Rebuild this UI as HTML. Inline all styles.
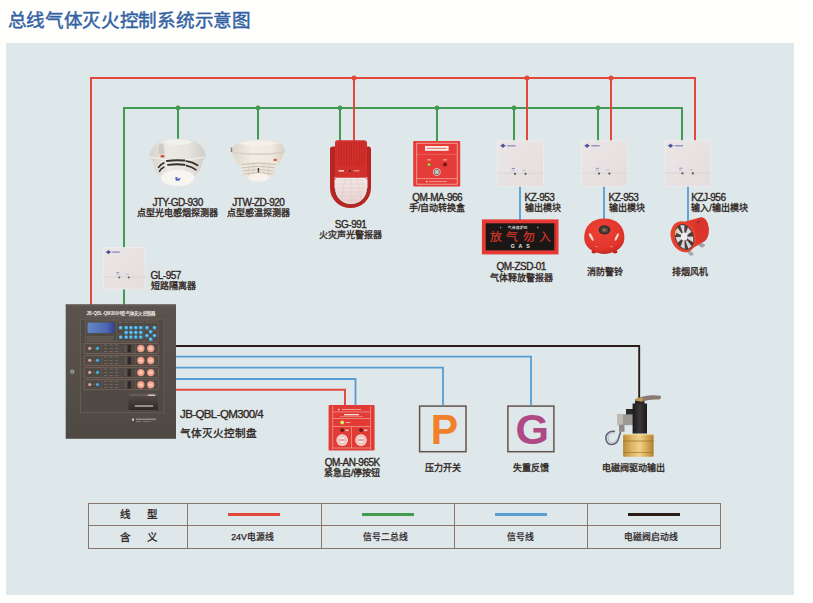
<!DOCTYPE html>
<html lang="zh-CN">
<head>
<meta charset="utf-8">
<style>
html,body{margin:0;padding:0;}
body{width:813px;height:603px;background:#fefefd;position:relative;overflow:hidden;font-family:"Liberation Sans",sans-serif;}
.title{position:absolute;left:7.5px;top:8.5px;font-size:18.6px;letter-spacing:-0.3px;-webkit-text-stroke:0.45px #3362a2;line-height:24px;color:#3362a2;white-space:nowrap;}
.panel{position:absolute;left:6px;top:43px;width:788px;height:552px;background:#dee7ea;}
svg.lines{position:absolute;left:0;top:0;}
.lbl{position:absolute;color:#31271f;font-size:9px;line-height:10.3px;-webkit-text-stroke:0.35px #31271f;white-space:nowrap;text-align:center;transform:translateX(-50%);}
.lbl b{display:block;font-weight:normal;font-size:10px;letter-spacing:-0.5px;-webkit-text-stroke:0.35px #31271f;}
.lbl.l{transform:none;text-align:left;}
.dev{position:absolute;}
.tt{position:absolute;font-size:10.5px;line-height:12px;color:#2a221e;-webkit-text-stroke:0.3px #2a221e;}
.tv{position:absolute;font-size:8.8px;line-height:10px;color:#2a221e;-webkit-text-stroke:0.25px #2a221e;transform:translateX(-50%);white-space:nowrap;}
</style>
</head>
<body>
<div class="title">总线气体灭火控制系统示意图</div>
<div class="panel"></div>

<svg class="lines" width="813" height="603" viewBox="0 0 813 603">
  <!-- green bus -->
  <g stroke="#439b52" stroke-width="2" fill="none">
    <polyline points="124,305 124,108 682,108 682,141"/>
    <line x1="178" y1="108" x2="178" y2="140"/>
    <line x1="258" y1="108" x2="258" y2="140"/>
    <line x1="340" y1="108" x2="340" y2="141"/>
    <line x1="437" y1="108" x2="437" y2="141"/>
    <line x1="514" y1="108" x2="514" y2="141"/>
    <line x1="598" y1="108" x2="598" y2="141"/>
  </g>
  <g fill="#439b52">
    <circle cx="178" cy="108" r="2.4"/><circle cx="258" cy="108" r="2.4"/>
    <circle cx="340" cy="108" r="2.4"/><circle cx="437" cy="108" r="2.4"/>
    <circle cx="514" cy="108" r="2.4"/><circle cx="598" cy="108" r="2.4"/>
  </g>
  <!-- red power -->
  <g stroke="#e2493b" stroke-width="2" fill="none">
    <polyline points="91,305 91,78 695,78 695,141"/>
    <line x1="354" y1="78" x2="354" y2="141"/>
    <line x1="527" y1="78" x2="527" y2="141"/>
    <line x1="611" y1="78" x2="611" y2="141"/>
  </g>
  <g fill="#e2493b">
    <circle cx="354" cy="78" r="2.5"/><circle cx="527" cy="78" r="2.5"/><circle cx="611" cy="78" r="2.5"/>
  </g>
  <!-- blue module outputs -->
  <g stroke="#559dd3" stroke-width="1.8" fill="none">
    <line x1="520" y1="186" x2="520" y2="220"/>
    <line x1="604" y1="186" x2="604" y2="219"/>
    <line x1="688" y1="186" x2="688" y2="222"/>
  </g>
  <!-- controller outputs -->
  <polyline points="176,346 639.2,346 639.2,398" stroke="#2b1d18" stroke-width="1.9" fill="none"/>
  <g stroke="#559dd3" stroke-width="1.8" fill="none">
    <polyline points="176,356.6 531,356.6 531,405"/>
    <polyline points="176,367.6 443,367.6 443,405"/>
    <polyline points="176,379 355.5,379 355.5,405"/>
  </g>
  <polyline points="176,389.7 345,389.7 345,405" stroke="#e2493b" stroke-width="1.9" fill="none"/>
<defs>
  <linearGradient id="gShell" x1="0" y1="0" x2="1" y2="0">
    <stop offset="0" stop-color="#d6d3cc"/><stop offset="0.35" stop-color="#eceae5"/><stop offset="0.7" stop-color="#e6e3dd"/><stop offset="1" stop-color="#cfccc5"/>
  </linearGradient>
  <linearGradient id="gHeat" x1="0" y1="0" x2="1" y2="0">
    <stop offset="0" stop-color="#ddd5c9"/><stop offset="0.4" stop-color="#f2ede5"/><stop offset="0.75" stop-color="#efe9e0"/><stop offset="1" stop-color="#d9d0c3"/>
  </linearGradient>
  <linearGradient id="gMod" x1="0" y1="0" x2="1" y2="1">
    <stop offset="0" stop-color="#ece7e6"/><stop offset="1" stop-color="#e3dedd"/>
  </linearGradient>
  <linearGradient id="gLcd" x1="0" y1="0" x2="1" y2="0">
    <stop offset="0" stop-color="#6487c6"/><stop offset="0.7" stop-color="#4d68b2"/><stop offset="1" stop-color="#36409a"/>
  </linearGradient>
  <linearGradient id="gCtrl" x1="0" y1="0" x2="0" y2="1">
    <stop offset="0" stop-color="#5b544e"/><stop offset="1" stop-color="#4f4944"/>
  </linearGradient>
  <linearGradient id="gBrass" x1="0" y1="0" x2="1" y2="0">
    <stop offset="0" stop-color="#b88a38"/><stop offset="0.3" stop-color="#e0b866"/><stop offset="0.55" stop-color="#f0d08a"/><stop offset="0.8" stop-color="#d4a450"/><stop offset="1" stop-color="#b08030"/>
  </linearGradient>
  <linearGradient id="gBlack" x1="0" y1="0" x2="1" y2="0">
    <stop offset="0" stop-color="#1c1a1a"/><stop offset="0.5" stop-color="#3a3838"/><stop offset="1" stop-color="#1a1818"/>
  </linearGradient>
  <linearGradient id="gPrn" x1="0" y1="0" x2="0" y2="1">
    <stop offset="0" stop-color="#57504b"/><stop offset="1" stop-color="#2e2a28"/>
  </linearGradient>
  <radialGradient id="gBell" cx="0.45" cy="0.35" r="0.7">
    <stop offset="0" stop-color="#ee4236"/><stop offset="0.7" stop-color="#e2362c"/><stop offset="1" stop-color="#c92a22"/>
  </radialGradient>
  <linearGradient id="gLens" x1="0" y1="0" x2="0" y2="1">
    <stop offset="0" stop-color="#f3e9e8"/><stop offset="1" stop-color="#e6d2d1"/>
  </linearGradient>
</defs>

<!-- ===== Smoke detector ===== -->
<g>
  <path d="M160,141.5 Q177.5,135.8 195,141.5 Q204,146 205.6,154.5 Q206,158 203,160 L200,170 Q196,177 188,178 L167,178 Q159,177 155,170 L152,160 Q149,158 149.5,154.5 Q151,146 160,141.5 Z" fill="url(#gShell)"/>
  <path d="M162,141.5 Q177.5,137 193,141.5 Q188,145 177.5,145 Q167,145 162,141.5 Z" fill="#f1f0ec"/>
  <path d="M158.5,146 Q160.5,142.5 163.5,145 L164.5,154 Q161,155.5 158.8,153 Z" fill="#c9c5be" opacity="0.85"/>
  <path d="M150,157 Q177.5,163 205,157" fill="none" stroke="#f4f3ef" stroke-width="1"/>
  <g stroke="#36302c" stroke-linecap="round" fill="none">
    <path d="M167,160.9 Q176,159.6 184.5,160.6" stroke-width="2"/>
    <path d="M168,164.9 Q176,163.8 184.5,164.7" stroke-width="1.9"/>
    <path d="M186.5,161.2 Q193,162.2 197.5,165.3" stroke-width="1.8"/>
    <path d="M186.5,165.6 Q192,166.7 196,169.8" stroke-width="1.7"/>
    <path d="M163.8,163 Q160.2,164.5 158.6,167.3" stroke-width="1.7"/>
    <path d="M163.8,167.2 Q160.6,168.7 159.6,171.3" stroke-width="1.6"/>
  </g>
  <ellipse cx="177.6" cy="177.6" rx="17.4" ry="8.7" fill="#e7e5e0"/>
  <ellipse cx="177.6" cy="177.9" rx="16.6" ry="8.1" fill="#f6f5f2"/>
  <ellipse cx="162.5" cy="156.3" rx="2.2" ry="1.4" fill="#d2513d"/>
  <path d="M175.3,177.3 L177.8,176.9 L176.8,178.8 L180.6,178 L179.6,180.6 L175.8,180.7 Z" fill="#4d5fb5"/>
</g>

<!-- ===== Heat detector ===== -->
<g>
  <path d="M231.5,151.5 Q231.5,144 243,141 Q258.5,138.2 274,141 Q285.5,144 284.5,151.5 L279,165 L238,165 Z" fill="url(#gHeat)"/>
  <path d="M237,143 Q258.5,138.8 280,143 Q270,146 258.5,146 Q247,146 237,143 Z" fill="#f4f0e9"/>
  <path d="M231.5,151.5 Q258,155.5 284.5,151.5 L284.2,153 Q258,157 231.8,153 Z" fill="#d8cfc2"/>
  <rect x="230.8" y="147.5" width="1.4" height="4.5" fill="#8a8078"/>
  <path d="M240,163 Q258.5,160.5 277,163 L273,176 Q258.5,182 244,176 Z" fill="#ece5db"/>
  <g stroke="#bdb1a1" stroke-width="0.7" fill="none">
    <path d="M241,164.5 Q258.5,161.5 276,164.5"/>
    <path d="M242,167.8 Q258.5,164.8 275,167.8"/>
    <path d="M243.2,171 Q258.5,168 273.8,171"/>
    <path d="M244.3,174 Q258.5,171.2 272.7,174"/>
  </g>
  <g stroke="#d4cabd" stroke-width="0.6">
    <line x1="248" y1="163" x2="249" y2="177"/><line x1="253" y1="162.5" x2="253.5" y2="178"/><line x1="264" y1="162.5" x2="263.5" y2="178"/><line x1="269" y1="163" x2="268" y2="177"/>
  </g>
  <rect x="257.8" y="168" width="1.3" height="4.5" fill="#3b3531"/>
  <ellipse cx="258.5" cy="177.5" rx="10.5" ry="4.2" fill="#f7f3ec"/>
  <ellipse cx="275.2" cy="159.9" rx="1.8" ry="1.2" fill="#d55540"/>
</g>

<!-- ===== Siren ===== -->
<g>
  <path d="M333,146.5 L368.5,146.5 Q371,146.5 371,149 L371,188 A20.5,20 0 0 1 330,188 L330,149 Q330,146.5 333,146.5 Z" fill="#b92622"/>
  <path d="M337.5,140.3 L364,140.3 Q367,140.3 367,143.3 L367,188 A16,16.5 0 0 1 335,188 L335,143 Q335,140.3 337.5,140.3 Z" fill="#d2302c"/>
  <g stroke="#b52420" stroke-width="0.6">
    <line x1="339" y1="142" x2="339" y2="166"/><line x1="341.5" y1="142" x2="341.5" y2="166"/><line x1="344" y1="142" x2="344" y2="166"/>
    <line x1="346.5" y1="142" x2="346.5" y2="166"/><line x1="349" y1="142" x2="349" y2="166"/><line x1="351.5" y1="142" x2="351.5" y2="166"/>
    <line x1="354" y1="142" x2="354" y2="166"/><line x1="356.5" y1="142" x2="356.5" y2="166"/><line x1="359" y1="142" x2="359" y2="166"/>
    <line x1="361.5" y1="142" x2="361.5" y2="166"/><line x1="364" y1="142" x2="364" y2="166"/>
  </g>
  <rect x="338.5" y="170" width="5.5" height="1.6" fill="#f3c9c4"/>
  <circle cx="350" cy="170.8" r="0.9" fill="#3a1a18"/>
  <rect x="353.5" y="170.3" width="6" height="1" fill="#efa9a2"/>
  <path d="M334.5,177.3 L367.5,177.3 L367.5,188.2 A16.5,16.5 0 0 1 334.5,188.2 Z" fill="url(#gLens)"/>
  <g stroke="#e3c0bd" stroke-width="0.5" fill="none">
    <path d="M338,180 L364,180"/><path d="M337,184 L365,184"/><path d="M337,188 L365,188"/><path d="M338,192 L364,192"/><path d="M340,196 L362,196"/><path d="M343,200 L359,200"/>
    <path d="M351,178 L351,204"/><path d="M345,179 L341,200"/><path d="M357,179 L361,200"/>
  </g>
  <path d="M334.5,188.2 A16.5,16.5 0 0 0 367.5,188.2" fill="none" stroke="#8e2420" stroke-width="0.9"/>
  <path d="M334.5,180 Q334.5,177.3 337.5,177.3 L364.5,177.3 Q367.5,177.3 367.5,180" fill="none" stroke="#d2302c" stroke-width="0.8"/>
</g>

<!-- ===== Manual auto box ===== -->
<g>
  <rect x="413.2" y="140.9" width="47" height="45.6" rx="0.8" fill="#e63c39"/>
  <rect x="416.8" y="143.2" width="40.4" height="41" fill="none" stroke="#f5c4bd" stroke-width="0.7"/>
  <rect x="425" y="146" width="23.6" height="4.8" fill="#f8ebe8"/>
  <rect x="427" y="147.8" width="19.6" height="1.2" fill="#e07a72"/>
  <line x1="417" y1="154.4" x2="457" y2="154.4" stroke="#ee7d75" stroke-width="0.5"/>
  <rect x="427" y="159.5" width="4" height="0.8" fill="#f7d7d2"/><rect x="443" y="159.5" width="4" height="0.8" fill="#f7d7d2"/>
  <circle cx="429" cy="164.5" r="2.3" fill="#b8422e"/><circle cx="429" cy="164.5" r="1.6" fill="#9fd23c"/>
  <circle cx="445" cy="164.5" r="2.3" fill="#a8302a"/><circle cx="445" cy="164.5" r="1.6" fill="#5a1c18"/>
  <circle cx="436.8" cy="172" r="3.8" fill="#f0d6d2"/><circle cx="436.8" cy="172" r="3.1" fill="#6d6664"/><circle cx="436.8" cy="172" r="2.2" fill="#c5c2c0"/>
  <line x1="417" y1="178.6" x2="457" y2="178.6" stroke="#f5c4bd" stroke-width="0.6"/>
  <rect x="426" y="180.9" width="1.5" height="1.4" fill="#f7d7d2"/><rect x="429" y="181.2" width="18" height="0.8" fill="#f2aea6"/>
</g>

<rect x="497.2" y="140.5" width="46.5" height="46" fill="url(#gMod)"/>
<rect x="497.5" y="140.8" width="45.9" height="45.4" fill="none" stroke="#f3f0ef" stroke-width="0.6"/>
<path d="M500.8,145.8 L503.0,143.60000000000002 L505.2,145.8 L503.0,148.0 Z" fill="#4b4f9e"/>
<rect x="500.2" y="145.45000000000002" width="5.6" height="0.7" fill="#4b4f9e"/>
<rect x="507.2" y="145.10000000000002" width="8.5" height="1.4" fill="#7a7cb8" opacity="0.8"/>
<line x1="497.2" y1="173.3" x2="543.7" y2="173.3" stroke="#d2cdca" stroke-width="0.6"/>
<rect x="511.7" y="168.0" width="3.2" height="1" fill="#6c7cc0" opacity="0.8"/>
<rect x="511.7" y="170.1" width="3.2" height="0.6" fill="#8a96cc" opacity="0.7"/>
<rect x="522.2" y="169.8" width="3.5" height="0.7" fill="#8a96cc" opacity="0.7"/>
<circle cx="515.0" cy="173.8" r="1.1" fill="#4d4540"/>
<circle cx="515.0" cy="173.8" r="0.45" fill="#a09890"/>
<circle cx="525.5" cy="173.8" r="1.1" fill="#4d4540"/>
<circle cx="525.5" cy="173.8" r="0.45" fill="#a09890"/>

<rect x="581.3" y="140.5" width="46.2" height="46" fill="url(#gMod)"/>
<rect x="581.5999999999999" y="140.8" width="45.6" height="45.4" fill="none" stroke="#f3f0ef" stroke-width="0.6"/>
<path d="M584.8625806451612,145.76580645161292 L587.0625806451612,143.56580645161293 L589.2625806451613,145.76580645161292 L587.0625806451612,147.9658064516129 Z" fill="#4b4f9e"/>
<rect x="584.2625806451613" y="145.41580645161292" width="5.6" height="0.7" fill="#4b4f9e"/>
<rect x="591.2354838709678" y="145.06580645161293" width="8.44516129032258" height="1.4" fill="#7a7cb8" opacity="0.8"/>
<line x1="581.3" y1="173.0883870967742" x2="627.5" y2="173.0883870967742" stroke="#d2cdca" stroke-width="0.6"/>
<rect x="595.7064516129032" y="167.82258064516128" width="3.1793548387096777" height="1" fill="#6c7cc0" opacity="0.8"/>
<rect x="595.7064516129032" y="169.9090322580645" width="3.1793548387096777" height="0.6" fill="#8a96cc" opacity="0.7"/>
<rect x="606.1387096774193" y="169.6109677419355" width="3.47741935483871" height="0.7" fill="#8a96cc" opacity="0.7"/>
<circle cx="598.9851612903226" cy="173.5851612903226" r="1.0929032258064517" fill="#4d4540"/>
<circle cx="598.9851612903226" cy="173.5851612903226" r="0.44709677419354843" fill="#a09890"/>
<circle cx="609.4174193548387" cy="173.5851612903226" r="1.0929032258064517" fill="#4d4540"/>
<circle cx="609.4174193548387" cy="173.5851612903226" r="0.44709677419354843" fill="#a09890"/>

<rect x="664.8" y="140.5" width="46" height="46" fill="url(#gMod)"/>
<rect x="665.0999999999999" y="140.8" width="45.4" height="45.4" fill="none" stroke="#f3f0ef" stroke-width="0.6"/>
<path d="M668.3376344086021,145.74301075268818 L670.5376344086021,143.5430107526882 L672.7376344086022,145.74301075268818 L670.5376344086021,147.94301075268817 Z" fill="#4b4f9e"/>
<rect x="667.7376344086022" y="145.39301075268818" width="5.6" height="0.7" fill="#4b4f9e"/>
<rect x="674.6924731182795" y="145.0430107526882" width="8.408602150537634" height="1.4" fill="#7a7cb8" opacity="0.8"/>
<line x1="664.8" y1="172.94731182795698" x2="710.8" y2="172.94731182795698" stroke="#d2cdca" stroke-width="0.6"/>
<rect x="679.1440860215054" y="167.7043010752688" width="3.1655913978494628" height="1" fill="#6c7cc0" opacity="0.8"/>
<rect x="679.1440860215054" y="169.78172043010753" width="3.1655913978494628" height="0.6" fill="#8a96cc" opacity="0.7"/>
<rect x="689.5311827956989" y="169.48494623655915" width="3.4623655913978495" height="0.7" fill="#8a96cc" opacity="0.7"/>
<circle cx="682.4086021505376" cy="173.44193548387096" r="1.0881720430107529" fill="#4d4540"/>
<circle cx="682.4086021505376" cy="173.44193548387096" r="0.44516129032258067" fill="#a09890"/>
<circle cx="692.7956989247311" cy="173.44193548387096" r="1.0881720430107529" fill="#4d4540"/>
<circle cx="692.7956989247311" cy="173.44193548387096" r="0.44516129032258067" fill="#a09890"/>

<rect x="103.2" y="247.3" width="42" height="42" fill="url(#gMod)"/>
<rect x="103.5" y="247.60000000000002" width="41.4" height="41.4" fill="none" stroke="#f3f0ef" stroke-width="0.6"/>
<path d="M106.23870967741935,252.08709677419355 L108.43870967741935,249.88709677419357 L110.63870967741936,252.08709677419355 L108.43870967741935,254.28709677419354 Z" fill="#4b4f9e"/>
<rect x="105.63870967741936" y="251.73709677419356" width="5.6" height="0.7" fill="#4b4f9e"/>
<rect x="112.23225806451613" y="251.38709677419357" width="7.677419354838709" height="1.4" fill="#7a7cb8" opacity="0.8"/>
<line x1="103.2" y1="276.9258064516129" x2="145.2" y2="276.9258064516129" stroke="#d2cdca" stroke-width="0.6"/>
<rect x="116.29677419354839" y="272.13870967741934" width="2.8903225806451616" height="1" fill="#6c7cc0" opacity="0.8"/>
<rect x="116.29677419354839" y="274.03548387096777" width="2.8903225806451616" height="0.6" fill="#8a96cc" opacity="0.7"/>
<rect x="125.78064516129032" y="273.76451612903224" width="3.161290322580645" height="0.7" fill="#8a96cc" opacity="0.7"/>
<circle cx="119.27741935483871" cy="277.3774193548387" r="0.9935483870967743" fill="#4d4540"/>
<circle cx="119.27741935483871" cy="277.3774193548387" r="0.4064516129032258" fill="#a09890"/>
<circle cx="128.76129032258063" cy="277.3774193548387" r="0.9935483870967743" fill="#4d4540"/>
<circle cx="128.76129032258063" cy="277.3774193548387" r="0.4064516129032258" fill="#a09890"/>

<!-- ===== Controller ===== -->
<g>
  <rect x="65.7" y="304.4" width="110.3" height="134.4" fill="url(#gCtrl)"/>
  <rect x="65.7" y="304.4" width="110.3" height="1" fill="#6e6760"/>
  <text x="86.5" y="315.2" font-size="5" fill="#efebe7" textLength="69" lengthAdjust="spacingAndGlyphs" font-family="Liberation Sans,sans-serif" font-weight="bold">JB-QBL-QM300/4型气体灭火控制器</text>
  <line x1="86.5" y1="316.2" x2="155.5" y2="316.2" stroke="#8a827b" stroke-width="0.4"/>
  <rect x="80.4" y="319.2" width="83.5" height="93.6" fill="#504944"/>
  <rect x="80.4" y="319.2" width="83.5" height="93.6" fill="none" stroke="#6c635c" stroke-width="0.7"/>
  <rect x="85.6" y="320.9" width="72.5" height="20.5" fill="none" stroke="#786c62" stroke-width="0.5"/>
  <line x1="116.7" y1="320.9" x2="116.7" y2="341.4" stroke="#786c62" stroke-width="0.5"/>
  <line x1="143.8" y1="320.9" x2="143.8" y2="341.4" stroke="#786c62" stroke-width="0.5"/>
  <line x1="116.7" y1="334.2" x2="123.5" y2="334.2" stroke="#786c62" stroke-width="0.4"/>
  <line x1="143.8" y1="330.2" x2="158.1" y2="330.2" stroke="#786c62" stroke-width="0.4"/>
  <rect x="87.5" y="322.5" width="26.8" height="10.6" fill="url(#gLcd)"/>
  <g fill="#5e5650" stroke="#766c64" stroke-width="0.4"><rect x="87.5" y="336.6" width="4.2" height="3.6"/><rect x="92.8" y="336.6" width="4.2" height="3.6"/><rect x="98.1" y="336.6" width="4.2" height="3.6"/><rect x="103.4" y="336.6" width="4.2" height="3.6"/><rect x="108.7" y="336.6" width="4.2" height="3.6"/></g>
  <g fill="#8d8178"><rect x="119" y="322.3" width="3" height="0.5"/><rect x="124.6" y="322.3" width="3" height="0.5"/><rect x="129.4" y="322.3" width="3" height="0.5"/><rect x="134.3" y="322.3" width="3" height="0.5"/><rect x="139.2" y="322.3" width="3" height="0.5"/><rect x="146" y="322.3" width="2" height="0.5"/><rect x="149.5" y="322.3" width="2" height="0.5"/><rect x="153.2" y="322.3" width="2" height="0.5"/></g>
  <rect x="128.4" y="392.9" width="29.8" height="17.2" rx="0.8" fill="url(#gPrn)"/>
  <rect x="129.5" y="394.5" width="27.5" height="1.4" fill="#6a625c"/>
  <rect x="148" y="394.6" width="7" height="1.2" fill="#e8e2de"/>
  <rect x="145.8" y="394.6" width="1.5" height="1.2" fill="#e05a3a"/>
  <rect x="134.8" y="405.3" width="18.3" height="1.4" fill="#c8b4a8"/>
  <circle cx="72.2" cy="371.6" r="2.2" fill="#a8a29c"/><circle cx="72.2" cy="371.6" r="1.2" fill="#7a746e"/>
  <circle cx="133" cy="419.7" r="1.1" fill="#e6e2de"/>
  <rect x="136" y="418.6" width="20" height="1.2" fill="#a49c96"/>
  <rect x="136" y="421" width="5" height="0.7" fill="#9a928c"/><rect x="143" y="421" width="8" height="0.7" fill="#8a827c"/>

<rect x="84" y="343.5" width="74.6" height="10" rx="1" fill="none" stroke="#8a7163" stroke-width="0.6"/>
<line x1="101.3" y1="344.0" x2="101.3" y2="353.0" stroke="#76655a" stroke-width="0.4"/>
<line x1="135.4" y1="344.0" x2="135.4" y2="353.0" stroke="#76655a" stroke-width="0.4"/>
<circle cx="89.7" cy="348.3" r="1.6" fill="#e0a49c"/>
<line x1="91.8" y1="348.3" x2="95.3" y2="348.3" stroke="#7a6b60" stroke-width="0.4"/>
<circle cx="97.5" cy="348.3" r="1.6" fill="#3fb0e6"/>
<rect x="104" y="344.7" width="3.3" height="0.6" fill="#8a7a70"/>
<rect x="104" y="348.0" width="3.3" height="0.6" fill="#8a7a70"/>
<rect x="104" y="351.2" width="3.3" height="0.6" fill="#8a7a70"/>
<rect x="109.5" y="344.7" width="3.3" height="0.6" fill="#8a7a70"/>
<rect x="109.5" y="348.0" width="3.3" height="0.6" fill="#8a7a70"/>
<rect x="109.5" y="351.2" width="3.3" height="0.6" fill="#8a7a70"/>
<rect x="115" y="344.7" width="3.3" height="0.6" fill="#8a7a70"/>
<rect x="115" y="348.0" width="3.3" height="0.6" fill="#8a7a70"/>
<rect x="115" y="351.2" width="3.3" height="0.6" fill="#8a7a70"/>
<rect x="123.5" y="344.8" width="7.5" height="7.6" fill="#2e2927"/>
<rect x="123.5" y="344.8" width="4" height="7.6" fill="#5a534e"/>
<circle cx="140.8" cy="348.5" r="3.7" fill="#ee9680"/>
<circle cx="140.8" cy="348.5" r="2.3" fill="#f6b8a5"/>
<rect x="139.20000000000002" y="347.9" width="3.2" height="1.2" fill="#f9d2c6"/>
<circle cx="150.7" cy="348.5" r="3.7" fill="#ee9680"/>
<circle cx="150.7" cy="348.5" r="2.3" fill="#f6b8a5"/>
<rect x="149.1" y="347.9" width="3.2" height="1.2" fill="#f9d2c6"/>
<rect x="84" y="355.5" width="74.6" height="10" rx="1" fill="none" stroke="#8a7163" stroke-width="0.6"/>
<line x1="101.3" y1="356.0" x2="101.3" y2="365.0" stroke="#76655a" stroke-width="0.4"/>
<line x1="135.4" y1="356.0" x2="135.4" y2="365.0" stroke="#76655a" stroke-width="0.4"/>
<circle cx="89.7" cy="360.3" r="1.6" fill="#e0a49c"/>
<line x1="91.8" y1="360.3" x2="95.3" y2="360.3" stroke="#7a6b60" stroke-width="0.4"/>
<circle cx="97.5" cy="360.3" r="1.6" fill="#3fb0e6"/>
<rect x="104" y="356.7" width="3.3" height="0.6" fill="#8a7a70"/>
<rect x="104" y="360.0" width="3.3" height="0.6" fill="#8a7a70"/>
<rect x="104" y="363.2" width="3.3" height="0.6" fill="#8a7a70"/>
<rect x="109.5" y="356.7" width="3.3" height="0.6" fill="#8a7a70"/>
<rect x="109.5" y="360.0" width="3.3" height="0.6" fill="#8a7a70"/>
<rect x="109.5" y="363.2" width="3.3" height="0.6" fill="#8a7a70"/>
<rect x="115" y="356.7" width="3.3" height="0.6" fill="#8a7a70"/>
<rect x="115" y="360.0" width="3.3" height="0.6" fill="#8a7a70"/>
<rect x="115" y="363.2" width="3.3" height="0.6" fill="#8a7a70"/>
<rect x="123.5" y="356.8" width="7.5" height="7.6" fill="#2e2927"/>
<rect x="123.5" y="356.8" width="4" height="7.6" fill="#5a534e"/>
<circle cx="140.8" cy="360.5" r="3.7" fill="#ee9680"/>
<circle cx="140.8" cy="360.5" r="2.3" fill="#f6b8a5"/>
<rect x="139.20000000000002" y="359.9" width="3.2" height="1.2" fill="#f9d2c6"/>
<circle cx="150.7" cy="360.5" r="3.7" fill="#ee9680"/>
<circle cx="150.7" cy="360.5" r="2.3" fill="#f6b8a5"/>
<rect x="149.1" y="359.9" width="3.2" height="1.2" fill="#f9d2c6"/>
<rect x="84" y="367.6" width="74.6" height="10" rx="1" fill="none" stroke="#8a7163" stroke-width="0.6"/>
<line x1="101.3" y1="368.1" x2="101.3" y2="377.1" stroke="#76655a" stroke-width="0.4"/>
<line x1="135.4" y1="368.1" x2="135.4" y2="377.1" stroke="#76655a" stroke-width="0.4"/>
<circle cx="89.7" cy="372.40000000000003" r="1.6" fill="#e0a49c"/>
<line x1="91.8" y1="372.40000000000003" x2="95.3" y2="372.40000000000003" stroke="#7a6b60" stroke-width="0.4"/>
<circle cx="97.5" cy="372.40000000000003" r="1.6" fill="#3fb0e6"/>
<rect x="104" y="368.8" width="3.3" height="0.6" fill="#8a7a70"/>
<rect x="104" y="372.1" width="3.3" height="0.6" fill="#8a7a70"/>
<rect x="104" y="375.3" width="3.3" height="0.6" fill="#8a7a70"/>
<rect x="109.5" y="368.8" width="3.3" height="0.6" fill="#8a7a70"/>
<rect x="109.5" y="372.1" width="3.3" height="0.6" fill="#8a7a70"/>
<rect x="109.5" y="375.3" width="3.3" height="0.6" fill="#8a7a70"/>
<rect x="115" y="368.8" width="3.3" height="0.6" fill="#8a7a70"/>
<rect x="115" y="372.1" width="3.3" height="0.6" fill="#8a7a70"/>
<rect x="115" y="375.3" width="3.3" height="0.6" fill="#8a7a70"/>
<rect x="123.5" y="368.90000000000003" width="7.5" height="7.6" fill="#2e2927"/>
<rect x="123.5" y="368.90000000000003" width="4" height="7.6" fill="#5a534e"/>
<circle cx="140.8" cy="372.6" r="3.7" fill="#ee9680"/>
<circle cx="140.8" cy="372.6" r="2.3" fill="#f6b8a5"/>
<rect x="139.20000000000002" y="372.0" width="3.2" height="1.2" fill="#f9d2c6"/>
<circle cx="150.7" cy="372.6" r="3.7" fill="#ee9680"/>
<circle cx="150.7" cy="372.6" r="2.3" fill="#f6b8a5"/>
<rect x="149.1" y="372.0" width="3.2" height="1.2" fill="#f9d2c6"/>
<rect x="84" y="379.7" width="74.6" height="10" rx="1" fill="none" stroke="#8a7163" stroke-width="0.6"/>
<line x1="101.3" y1="380.2" x2="101.3" y2="389.2" stroke="#76655a" stroke-width="0.4"/>
<line x1="135.4" y1="380.2" x2="135.4" y2="389.2" stroke="#76655a" stroke-width="0.4"/>
<circle cx="89.7" cy="384.5" r="1.6" fill="#e0a49c"/>
<line x1="91.8" y1="384.5" x2="95.3" y2="384.5" stroke="#7a6b60" stroke-width="0.4"/>
<circle cx="97.5" cy="384.5" r="1.6" fill="#3fb0e6"/>
<rect x="104" y="380.9" width="3.3" height="0.6" fill="#8a7a70"/>
<rect x="104" y="384.2" width="3.3" height="0.6" fill="#8a7a70"/>
<rect x="104" y="387.4" width="3.3" height="0.6" fill="#8a7a70"/>
<rect x="109.5" y="380.9" width="3.3" height="0.6" fill="#8a7a70"/>
<rect x="109.5" y="384.2" width="3.3" height="0.6" fill="#8a7a70"/>
<rect x="109.5" y="387.4" width="3.3" height="0.6" fill="#8a7a70"/>
<rect x="115" y="380.9" width="3.3" height="0.6" fill="#8a7a70"/>
<rect x="115" y="384.2" width="3.3" height="0.6" fill="#8a7a70"/>
<rect x="115" y="387.4" width="3.3" height="0.6" fill="#8a7a70"/>
<rect x="123.5" y="381.0" width="7.5" height="7.6" fill="#2e2927"/>
<rect x="123.5" y="381.0" width="4" height="7.6" fill="#5a534e"/>
<circle cx="140.8" cy="384.7" r="3.7" fill="#ee9680"/>
<circle cx="140.8" cy="384.7" r="2.3" fill="#f6b8a5"/>
<rect x="139.20000000000002" y="384.09999999999997" width="3.2" height="1.2" fill="#f9d2c6"/>
<circle cx="150.7" cy="384.7" r="3.7" fill="#ee9680"/>
<circle cx="150.7" cy="384.7" r="2.3" fill="#f6b8a5"/>
<rect x="149.1" y="384.09999999999997" width="3.2" height="1.2" fill="#f9d2c6"/>
<circle cx="120.7" cy="327.7" r="1.9" fill="#42ade6"/><circle cx="120.4" cy="327.4" r="0.9" fill="#7cccf2"/>
<circle cx="126.2" cy="327.7" r="1.9" fill="#42ade6"/><circle cx="125.9" cy="327.4" r="0.9" fill="#7cccf2"/>
<circle cx="131.0" cy="327.7" r="1.9" fill="#42ade6"/><circle cx="130.7" cy="327.4" r="0.9" fill="#7cccf2"/>
<circle cx="135.9" cy="327.7" r="1.9" fill="#42ade6"/><circle cx="135.6" cy="327.4" r="0.9" fill="#7cccf2"/>
<circle cx="140.8" cy="327.7" r="1.9" fill="#42ade6"/><circle cx="140.5" cy="327.4" r="0.9" fill="#7cccf2"/>
<circle cx="147.0" cy="327.7" r="1.9" fill="#42ade6"/><circle cx="146.7" cy="327.4" r="0.9" fill="#7cccf2"/>
<circle cx="154.5" cy="327.7" r="1.9" fill="#42ade6"/><circle cx="154.2" cy="327.4" r="0.9" fill="#7cccf2"/>
<circle cx="126.2" cy="332.5" r="1.9" fill="#42ade6"/><circle cx="125.9" cy="332.2" r="0.9" fill="#7cccf2"/>
<circle cx="131.0" cy="332.5" r="1.9" fill="#42ade6"/><circle cx="130.7" cy="332.2" r="0.9" fill="#7cccf2"/>
<circle cx="135.9" cy="332.5" r="1.9" fill="#42ade6"/><circle cx="135.6" cy="332.2" r="0.9" fill="#7cccf2"/>
<circle cx="140.8" cy="332.5" r="1.9" fill="#42ade6"/><circle cx="140.5" cy="332.2" r="0.9" fill="#7cccf2"/>
<circle cx="150.7" cy="331.8" r="1.9" fill="#42ade6"/><circle cx="150.39999999999998" cy="331.5" r="0.9" fill="#7cccf2"/>
<circle cx="120.7" cy="337.1" r="1.9" fill="#42ade6"/><circle cx="120.4" cy="336.8" r="0.9" fill="#7cccf2"/>
<circle cx="126.2" cy="337.1" r="1.9" fill="#42ade6"/><circle cx="125.9" cy="336.8" r="0.9" fill="#7cccf2"/>
<circle cx="131.0" cy="337.1" r="1.9" fill="#42ade6"/><circle cx="130.7" cy="336.8" r="0.9" fill="#7cccf2"/>
<circle cx="135.9" cy="337.1" r="1.9" fill="#42ade6"/><circle cx="135.6" cy="336.8" r="0.9" fill="#7cccf2"/>
<circle cx="140.8" cy="337.1" r="1.9" fill="#42ade6"/><circle cx="140.5" cy="336.8" r="0.9" fill="#7cccf2"/>
<circle cx="147.0" cy="335.6" r="1.9" fill="#42ade6"/><circle cx="146.7" cy="335.3" r="0.9" fill="#7cccf2"/>
<circle cx="154.5" cy="335.6" r="1.9" fill="#42ade6"/><circle cx="154.2" cy="335.3" r="0.9" fill="#7cccf2"/>
<circle cx="150.7" cy="339.2" r="1.9" fill="#42ade6"/><circle cx="150.39999999999998" cy="338.9" r="0.9" fill="#7cccf2"/>
</g>
<!-- ===== Gas release alarm ===== -->
<g>
  <rect x="481.9" y="219.4" width="76.6" height="35" fill="#e53a34"/>
  <rect x="485.7" y="223.3" width="68.7" height="27.1" fill="#1b1716"/>
  <rect x="554.4" y="223.3" width="1.2" height="27.1" fill="#b52a25"/>
  <g fill="#e4e0dc">
    <path d="M500,226.2 L501.6,227.4 L500,228.8 L500.6,227.4 Z"/><path d="M538.5,226.2 L537,227.4 L538.5,228.8 L538,227.4 Z"/>
  </g>
  <text x="507.5" y="229" font-size="3.6" fill="#e8e4e0" textLength="20" lengthAdjust="spacingAndGlyphs" font-family="Liberation Sans,sans-serif" font-weight="bold">气体保护区</text>
  <text x="489.6" y="240.8" font-size="11.8" fill="#d3352b" textLength="61.5" lengthAdjust="spacing" font-family="Liberation Serif,serif" stroke="#d3352b" stroke-width="0.25">放气勿入</text>
  <text x="510.8" y="248" font-size="5.2" fill="#f0ece8" textLength="18.8" lengthAdjust="spacing" font-family="Liberation Sans,sans-serif" font-weight="bold">GAS</text>
</g>

<!-- ===== Bell ===== -->
<g>
  <ellipse cx="594" cy="251.8" rx="2.5" ry="1.8" fill="#b8281f"/>
  <ellipse cx="615" cy="251.8" rx="2.5" ry="1.8" fill="#b8281f"/>
  <path d="M584.2,238 C584,225 593,218.4 604.3,218.4 C615.6,218.4 624.6,225 624.4,238 C624.2,246 618,253 604.3,253.8 C590.6,253 584.4,246 584.2,238 Z" fill="url(#gBell)"/>
  <path d="M586,243 C590,250 598,252.5 604.3,252.5 C610.6,252.5 618.6,250 622.6,243 C619,249.5 611,253.8 604.3,253.8 C597.6,253.8 589.6,249.5 586,243 Z" fill="#b92920"/>
  <ellipse cx="604.5" cy="229.9" rx="5.9" ry="4.7" fill="#3a302e"/>
  <ellipse cx="604.5" cy="229.9" rx="3.5" ry="2.6" fill="#5a4d48"/>
  <circle cx="604.3" cy="230" r="0.9" fill="#d08a3a"/>
  <ellipse cx="591.3" cy="237" rx="1.3" ry="4.3" transform="rotate(-28 591.3 237)" fill="#fbe4e0" opacity="0.9"/>
  <ellipse cx="616.8" cy="237" rx="1.2" ry="4" transform="rotate(25 616.8 237)" fill="#fbe4e0" opacity="0.9"/>
  <ellipse cx="596.5" cy="246.5" rx="1" ry="0.6" fill="#f4a49a"/>
  <ellipse cx="611.5" cy="246.5" rx="1" ry="0.6" fill="#f4a49a"/>
</g>

<!-- ===== Fan ===== -->
<g>
  <path d="M695,237.5 L705.5,245.5 L702,247.8 L691,240.5 Z" fill="#a0a0a2"/>
  <path d="M686,245 L694,254.5 L690.5,256 L682.5,247 Z" fill="#a8a8aa"/>
  <path d="M680,223 L700,217.6 A7.5,12.3 0 0 1 702.5,242.3 L687,251.8 Z" fill="#e13b2f"/>
  <ellipse cx="701.5" cy="229.9" rx="7.2" ry="12.3" fill="#da352b"/>
  <ellipse cx="683.4" cy="236.7" rx="12.5" ry="15.8" transform="rotate(-18 683.4 236.7)" fill="#e8412f"/>
  <ellipse cx="684.4" cy="237" rx="9.4" ry="13.2" transform="rotate(-18 684.4 237)" fill="#4e3e3a"/>
  <g fill="#d9d9db" transform="rotate(-18 684.4 237)">
    <path d="M687.35,237.76 L692.87,239.17 L691.18,244.68 L686.76,239.68 Z"/><path d="M685.83,240.82 L688.51,247.95 L684.49,249.47 L684.43,241.35 Z"/><path d="M683.23,241.01 L681.06,248.49 L677.73,244.87 L682.07,239.75 Z"/><path d="M681.51,238.18 L676.12,240.38 L676.00,234.35 L681.47,236.07 Z"/><path d="M681.96,234.46 L677.42,229.72 L680.59,225.82 L683.07,233.10 Z"/><path d="M684.25,232.66 L683.97,224.55 L688.05,225.71 L685.67,233.06 Z"/><path d="M686.65,234.12 L690.85,228.75 L692.76,234.10 L687.32,235.99 Z"/>
  </g>
  <path d="M676.2,229.5 L675.4,235" stroke="#e8c040" stroke-width="1.4"/>
  <ellipse cx="684.2" cy="236.6" rx="3.3" ry="4.2" fill="#ececee"/>
  <path d="M697,223 L700,221" stroke="#3a2a80" stroke-width="0.8"/>
</g>

<!-- ===== Button box (QM-AN-965K) ===== -->
<g>
  <rect x="328.6" y="405" width="46" height="45.6" rx="0.8" fill="#e23b36"/>
  <g stroke="#f3b8b0" stroke-width="0.6" fill="none">
    <line x1="332.7" y1="406" x2="332.7" y2="449.5"/>
    <line x1="370.5" y1="406" x2="370.5" y2="449.5"/>
    <line x1="332.7" y1="411.9" x2="370.5" y2="411.9"/>
    <line x1="332.7" y1="418.5" x2="370.5" y2="418.5"/>
    <line x1="332.7" y1="426.5" x2="370.5" y2="426.5"/>
    <line x1="351.5" y1="426.5" x2="351.5" y2="448"/>
    <line x1="332.7" y1="448" x2="370.5" y2="448"/>
  </g>
  <rect x="338" y="408.8" width="1.5" height="1.5" fill="#f8d8d4"/>
  <rect x="342" y="409.1" width="19" height="0.9" fill="#f2aaa2"/>
  <rect x="344" y="414" width="15" height="1.3" fill="#f8e0dc"/>
  <rect x="340" y="416.2" width="23" height="0.6" fill="#f0a29a"/>
  <circle cx="342.2" cy="422.4" r="2" fill="#c8e04a"/><circle cx="342.2" cy="422.4" r="1.1" fill="#eef6a0"/>
  <rect x="346" y="422" width="4.5" height="0.8" fill="#f5c0b8"/>
  <circle cx="342.2" cy="430.1" r="1.9" fill="#5a1d1a"/><circle cx="361" cy="430.1" r="1.9" fill="#5a1d1a"/>
  <rect x="345.5" y="429.5" width="3" height="1.6" fill="#f4c5be"/><rect x="364.3" y="429.5" width="3" height="1.6" fill="#f4c5be"/>
  <circle cx="342.2" cy="440.1" r="5.8" fill="#f4dedb"/><circle cx="342.2" cy="440.1" r="4.7" fill="#ecb8b2"/><circle cx="342.2" cy="440.1" r="3.3" fill="#f6e2df"/>
  <circle cx="361" cy="440.1" r="5.8" fill="#f4dedb"/><circle cx="361" cy="440.1" r="4.7" fill="#ecb8b2"/><circle cx="361" cy="440.1" r="3.3" fill="#f6e2df"/>
  <rect x="339.5" y="439.3" width="5.4" height="1.4" fill="#dc8a82"/><rect x="358.3" y="439.3" width="5.4" height="1.4" fill="#dc8a82"/>
</g>

<!-- ===== P / G boxes ===== -->
<rect x="419.6" y="406.1" width="46.4" height="45.6" fill="none" stroke="#64534a" stroke-width="1.5"/>
<rect x="507.9" y="406.1" width="46" height="45.6" fill="none" stroke="#64534a" stroke-width="1.5"/>
<text x="444.4" y="444" text-anchor="middle" font-family="Liberation Sans,sans-serif" font-weight="bold" font-size="43.2" fill="#f0802a" transform="translate(444.4 0) scale(0.95 1) translate(-444.4 0)">P</text>
<text x="532.3" y="444" text-anchor="middle" font-family="Liberation Sans,sans-serif" font-weight="bold" font-size="43.2" fill="#ae4a86">G</text>

<!-- ===== Valve ===== -->
<g>
  <path d="M615,431.5 C608,430 604.5,436 606.5,441 C608.5,446 616,445.5 618,440 L620.5,432" fill="none" stroke="#5e6074" stroke-width="1.6"/>
  <path d="M614.5,433 C609.5,432 607,436.5 608.5,440 C610,443.5 615,443.5 616.5,439.5" fill="none" stroke="#a4a6b8" stroke-width="0.8"/>
  <rect x="617" y="414.3" width="17" height="10.8" fill="#9c9a96"/>
  <rect x="617" y="414.3" width="6" height="10.8" fill="#bdbab4"/>
  <rect x="619" y="424.8" width="5.5" height="7" fill="#8e8b86"/>
  <path d="M626,409 L633,409 L633,414.5 L626,414.5 Z" fill="#2a2828"/>
  <rect x="632.6" y="403.5" width="14.4" height="30" fill="url(#gBlack)"/>
  <rect x="635" y="400.5" width="9.5" height="3.5" fill="#2a2626"/>
  <path d="M634.5,399.8 Q646,393.5 660.9,395.8 Q661.5,398.8 659,399.6 Q648,399 641,402 Z" fill="#8a7a72"/>
  <ellipse cx="639.5" cy="399.4" rx="3.5" ry="1.6" fill="#c49a48"/>
  <rect x="623.1" y="434" width="30.5" height="22.7" rx="1.5" fill="url(#gBrass)"/>
  <rect x="623.1" y="440.5" width="30.5" height="1" fill="#9a6e26" opacity="0.7"/>
  <rect x="623.1" y="452" width="30.5" height="0.9" fill="#9a6e26" opacity="0.7"/>
  <rect x="623.1" y="434" width="30.5" height="1.2" fill="#f6dfa6" opacity="0.7"/>
</g>

</svg>

<!-- labels -->
<div class="lbl" style="left:177.6px;top:198px"><b>JTY-GD-930</b></div>
<div class="lbl" style="left:177.6px;top:208px">点型光电感烟探测器</div>
<div class="lbl" style="left:258.3px;top:198px"><b>JTW-ZD-920</b></div>
<div class="lbl" style="left:258.3px;top:208px">点型感温探测器</div>
<div class="lbl" style="left:350.6px;top:220px"><b>SG-991</b></div>
<div class="lbl" style="left:350.6px;top:230px">火灾声光警报器</div>
<div class="lbl" style="left:437.2px;top:193px"><b>QM-MA-966</b></div>
<div class="lbl" style="left:437.2px;top:203px">手/自动转换盒</div>
<div class="lbl l" style="left:524.6px;top:193px"><b>KZ-953</b></div>
<div class="lbl l" style="left:524.6px;top:203px">输出模块</div>
<div class="lbl l" style="left:608.6px;top:193px"><b>KZ-953</b></div>
<div class="lbl l" style="left:608.6px;top:203px">输出模块</div>
<div class="lbl l" style="left:691.2px;top:193px"><b>KZJ-956</b></div>
<div class="lbl l" style="left:691.2px;top:203px">输入/输出模块</div>
<div class="lbl" style="left:521.2px;top:262px"><b>QM-ZSD-01</b></div>
<div class="lbl" style="left:521.2px;top:273px">气体释放警报器</div>
<div class="lbl" style="left:604.6px;top:267px">消防警铃</div>
<div class="lbl" style="left:690.0px;top:267px">排烟风机</div>
<div class="lbl l" style="left:150.5px;top:271px"><b>GL-957</b></div>
<div class="lbl l" style="left:150.5px;top:281px">短路隔离器</div>
<div class="lbl" style="left:352.2px;top:458px"><b>QM-AN-965K</b></div>
<div class="lbl" style="left:352.2px;top:468px">紧急启/停按钮</div>
<div class="lbl" style="left:443.0px;top:463px">压力开关</div>
<div class="lbl" style="left:531.0px;top:463px">失重反馈</div>
<div class="lbl" style="left:633.2px;top:463px">电磁阀驱动输出</div>
<div class="lbl l" style="left:180px;top:408px;"><b style="font-size:11.5px;line-height:13px;letter-spacing:-0.6px">JB-QBL-QM300/4</b></div>
<div class="lbl l" style="left:180px;top:426px;font-size:10.6px;line-height:14px">气体灭火控制盘</div>

<div style="position:absolute;left:88px;top:503px;width:633px;height:1px;background:#8a776b"></div>
<div style="position:absolute;left:88px;top:525px;width:633px;height:1px;background:#8a776b"></div>
<div style="position:absolute;left:88px;top:548px;width:633px;height:1px;background:#8a776b"></div>
<div style="position:absolute;left:88px;top:503px;width:1px;height:46px;background:#8a776b"></div>
<div style="position:absolute;left:187px;top:503px;width:1px;height:46px;background:#8a776b"></div>
<div style="position:absolute;left:321px;top:503px;width:1px;height:46px;background:#8a776b"></div>
<div style="position:absolute;left:454px;top:503px;width:1px;height:46px;background:#8a776b"></div>
<div style="position:absolute;left:587px;top:503px;width:1px;height:46px;background:#8a776b"></div>
<div style="position:absolute;left:720px;top:503px;width:1px;height:46px;background:#8a776b"></div>
<div style="position:absolute;left:228.2px;top:513px;width:52px;height:3px;background:#e2493b"></div>
<div style="position:absolute;left:361.5px;top:513px;width:52px;height:3px;background:#439b52"></div>
<div style="position:absolute;left:494.5px;top:513px;width:52px;height:3px;background:#559dd3"></div>
<div style="position:absolute;left:628px;top:513px;width:52px;height:3px;background:#2b1d18"></div>
<div class="tt" style="left:120px;top:508px">线</div><div class="tt" style="left:146.5px;top:508px">型</div>
<div class="tt" style="left:120px;top:531px">含</div><div class="tt" style="left:146.5px;top:531px">义</div>
<div class="tv" style="left:252.5px;top:531.5px">24V电源线</div>
<div class="tv" style="left:385px;top:531.5px">信号二总线</div>
<div class="tv" style="left:520px;top:531.5px">信号线</div>
<div class="tv" style="left:651px;top:531.5px">电磁阀启动线</div>

</body>
</html>
